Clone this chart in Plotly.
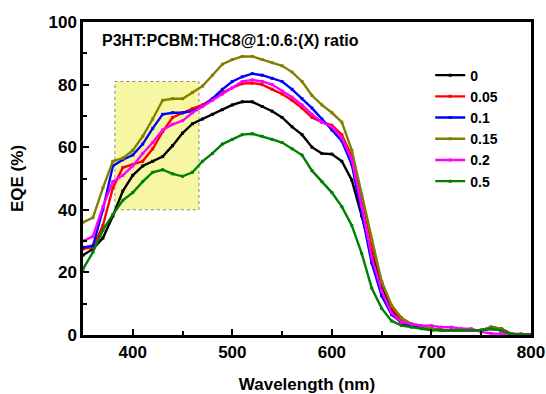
import plotly.graph_objects as go

wavelength = [350, 360, 370, 380, 390, 400, 410, 420, 430, 440, 450, 460, 470, 480, 490,
              500, 510, 520, 530, 540, 550, 560, 570, 580, 590, 600, 610, 620, 630, 640,
              650, 660, 670, 680, 690, 700, 710, 720, 730, 740, 750, 760, 770, 780, 790, 800]

eqe_0 = [25.5, 27.5, 31, 38, 46, 51, 54, 55.5, 57, 60.5, 64.5, 67.5, 69, 70.5, 72, 73.5, 74.5, 74.5, 73, 71.5,
         69.5, 66.5, 64, 60, 58, 57.8, 55.5, 49.5, 38, 26, 16, 8, 3.5, 3, 2.5, 2, 1.5, 1.5, 1.5, 1.5, 1.5, 2, 1.5, 0.3, 0.2, 0]
eqe_005 = [27.5, 28, 35, 47, 53.5, 54.5, 55.5, 59.5, 65, 69.5, 71, 72.3, 73.5, 75.5, 77.5, 79, 80.3, 80.5, 80, 78.5,
           77, 75, 72.5, 69.5, 68, 67, 64, 57, 44, 29, 17, 9, 4.5, 3, 3, 2, 1.5, 1.5, 1.5, 1.5, 1.5, 2.5, 2, 0.3, 0.2, 0]
eqe_01 = [28, 28.5, 40, 54, 56, 57.5, 61, 66, 70.5, 71, 71, 71.5, 73, 75.5, 78.5, 81, 82.5, 83.5, 83, 82,
          81, 78.5, 75.5, 72.5, 69, 65.5, 62, 54.5, 39, 23, 12.5, 6.5, 4, 3, 2.5, 2, 1.5, 1.5, 1.5, 1.5, 1.5, 2.5, 2, 0.3, 0.2, 0]
eqe_015 = [36, 37.5, 47, 55.5, 56.5, 59, 63.5, 69, 75, 75.5, 75.5, 77.5, 79.5, 83, 86.5, 88, 89, 89, 88, 87,
           86, 84, 81, 76.5, 73.5, 71, 68, 59, 45, 30, 17, 9.5, 5.5, 3.5, 3, 2, 1.5, 1.5, 1.5, 1.5, 1.5, 2.5, 2, 0.3, 0.2, 0]
eqe_02 = [30, 31.5, 41, 49, 51, 54, 58, 61.5, 65.5, 67.3, 68.5, 71, 73, 75, 77, 79, 81, 81.5, 81, 80,
          78, 76, 73.5, 70.5, 68, 66.5, 63, 56, 41, 25, 14, 7, 4, 3.5, 3, 3, 2.5, 2.5, 2, 2, 1, 0.5, 0.5, 0.3, 0.3, 0]
eqe_05 = [21, 26.5, 33.5, 38.5, 43, 45.5, 49, 52, 52.8, 51.5, 50.7, 52, 55.5, 58, 61, 62.5, 64, 64.3, 63.5, 62.5,
          61.5, 59.5, 57.5, 52.5, 49, 45.5, 41, 35, 26, 15, 8.5, 4.5, 3, 2.5, 2, 1.5, 1.5, 1.5, 1.5, 1.5, 1.5, 2, 1.5, 0.3, 0.2, 0]

series_names = ["0", "0.05", "0.1", "0.15", "0.2", "0.5"]
series_values = [eqe_0, eqe_005, eqe_01, eqe_015, eqe_02, eqe_05]
series_colors = ["#000000", "#ff0000", "#0000ff", "#808000", "#ff00ff", "#008000"]

x_ticks = [400, 500, 600, 700, 800]
y_ticks = [0, 20, 40, 60, 80, 100]

box_x = [382, 466.5]
box_y = [40, 81]

FONT = "Liberation Sans, Arial"

fig = go.Figure()
for name, vals, col in zip(series_names, series_values, series_colors):
    fig.add_trace(go.Scatter(
        x=wavelength, y=vals, name=name, mode="lines+markers",
        line=dict(color=col, width=2.4),
        marker=dict(color=col, size=3, symbol="square"),
    ))

fig.add_shape(type="rect", x0=box_x[0], x1=box_x[1], y0=box_y[0], y1=box_y[1],
              xref="x", yref="y", layer="below",
              fillcolor="rgba(245,245,140,0.8)",
              line=dict(color="#888888", width=1, dash="dot"))

fig.add_annotation(x=0.038, y=0.975, xref="paper", yref="paper",
                   text="<b>P3HT:PCBM:THC8@1:0.6:(X) ratio</b>", showarrow=False,
                   xanchor="left", yanchor="top",
                   font=dict(family=FONT, size=16, color="black"))

axis_common = dict(
    showline=True, linecolor="black", linewidth=2.5, mirror=True,
    ticks="inside", tickcolor="black", tickwidth=2, ticklen=6,
    showgrid=False, zeroline=False,
    tickfont=dict(family=FONT, size=17, color="black", weight="bold"),
)

fig.update_xaxes(range=[350, 800], tickvals=x_ticks,
                 minor=dict(ticks="inside", dtick=50, ticklen=4, tickcolor="black", tickwidth=2),
                 title=dict(text="<b>Wavelength (nm)</b>", font=dict(family=FONT, size=17, color="black"), standoff=22),
                 **axis_common)
fig.update_yaxes(range=[0, 100], tickvals=y_ticks,
                 minor=dict(ticks="inside", dtick=10, ticklen=4, tickcolor="black", tickwidth=2),
                 title=dict(text="<b>EQE (%)</b>", font=dict(family=FONT, size=17, color="black"), standoff=21),
                 **axis_common)

fig.update_layout(
    width=546, height=394,
    margin=dict(l=83, r=15, t=22, b=59, autoexpand=False),
    plot_bgcolor="white", paper_bgcolor="white",
    legend=dict(x=0.775, y=0.88, xanchor="left", yanchor="top",
                bgcolor="rgba(0,0,0,0)", tracegroupgap=0, itemwidth=30,
                font=dict(family=FONT, size=14, color="black", weight="bold")),
)

fig.write_html("out.html", config={"displayModeBar": False},
               post_script="document.body.style.margin='0';document.body.style.overflow='hidden';")
